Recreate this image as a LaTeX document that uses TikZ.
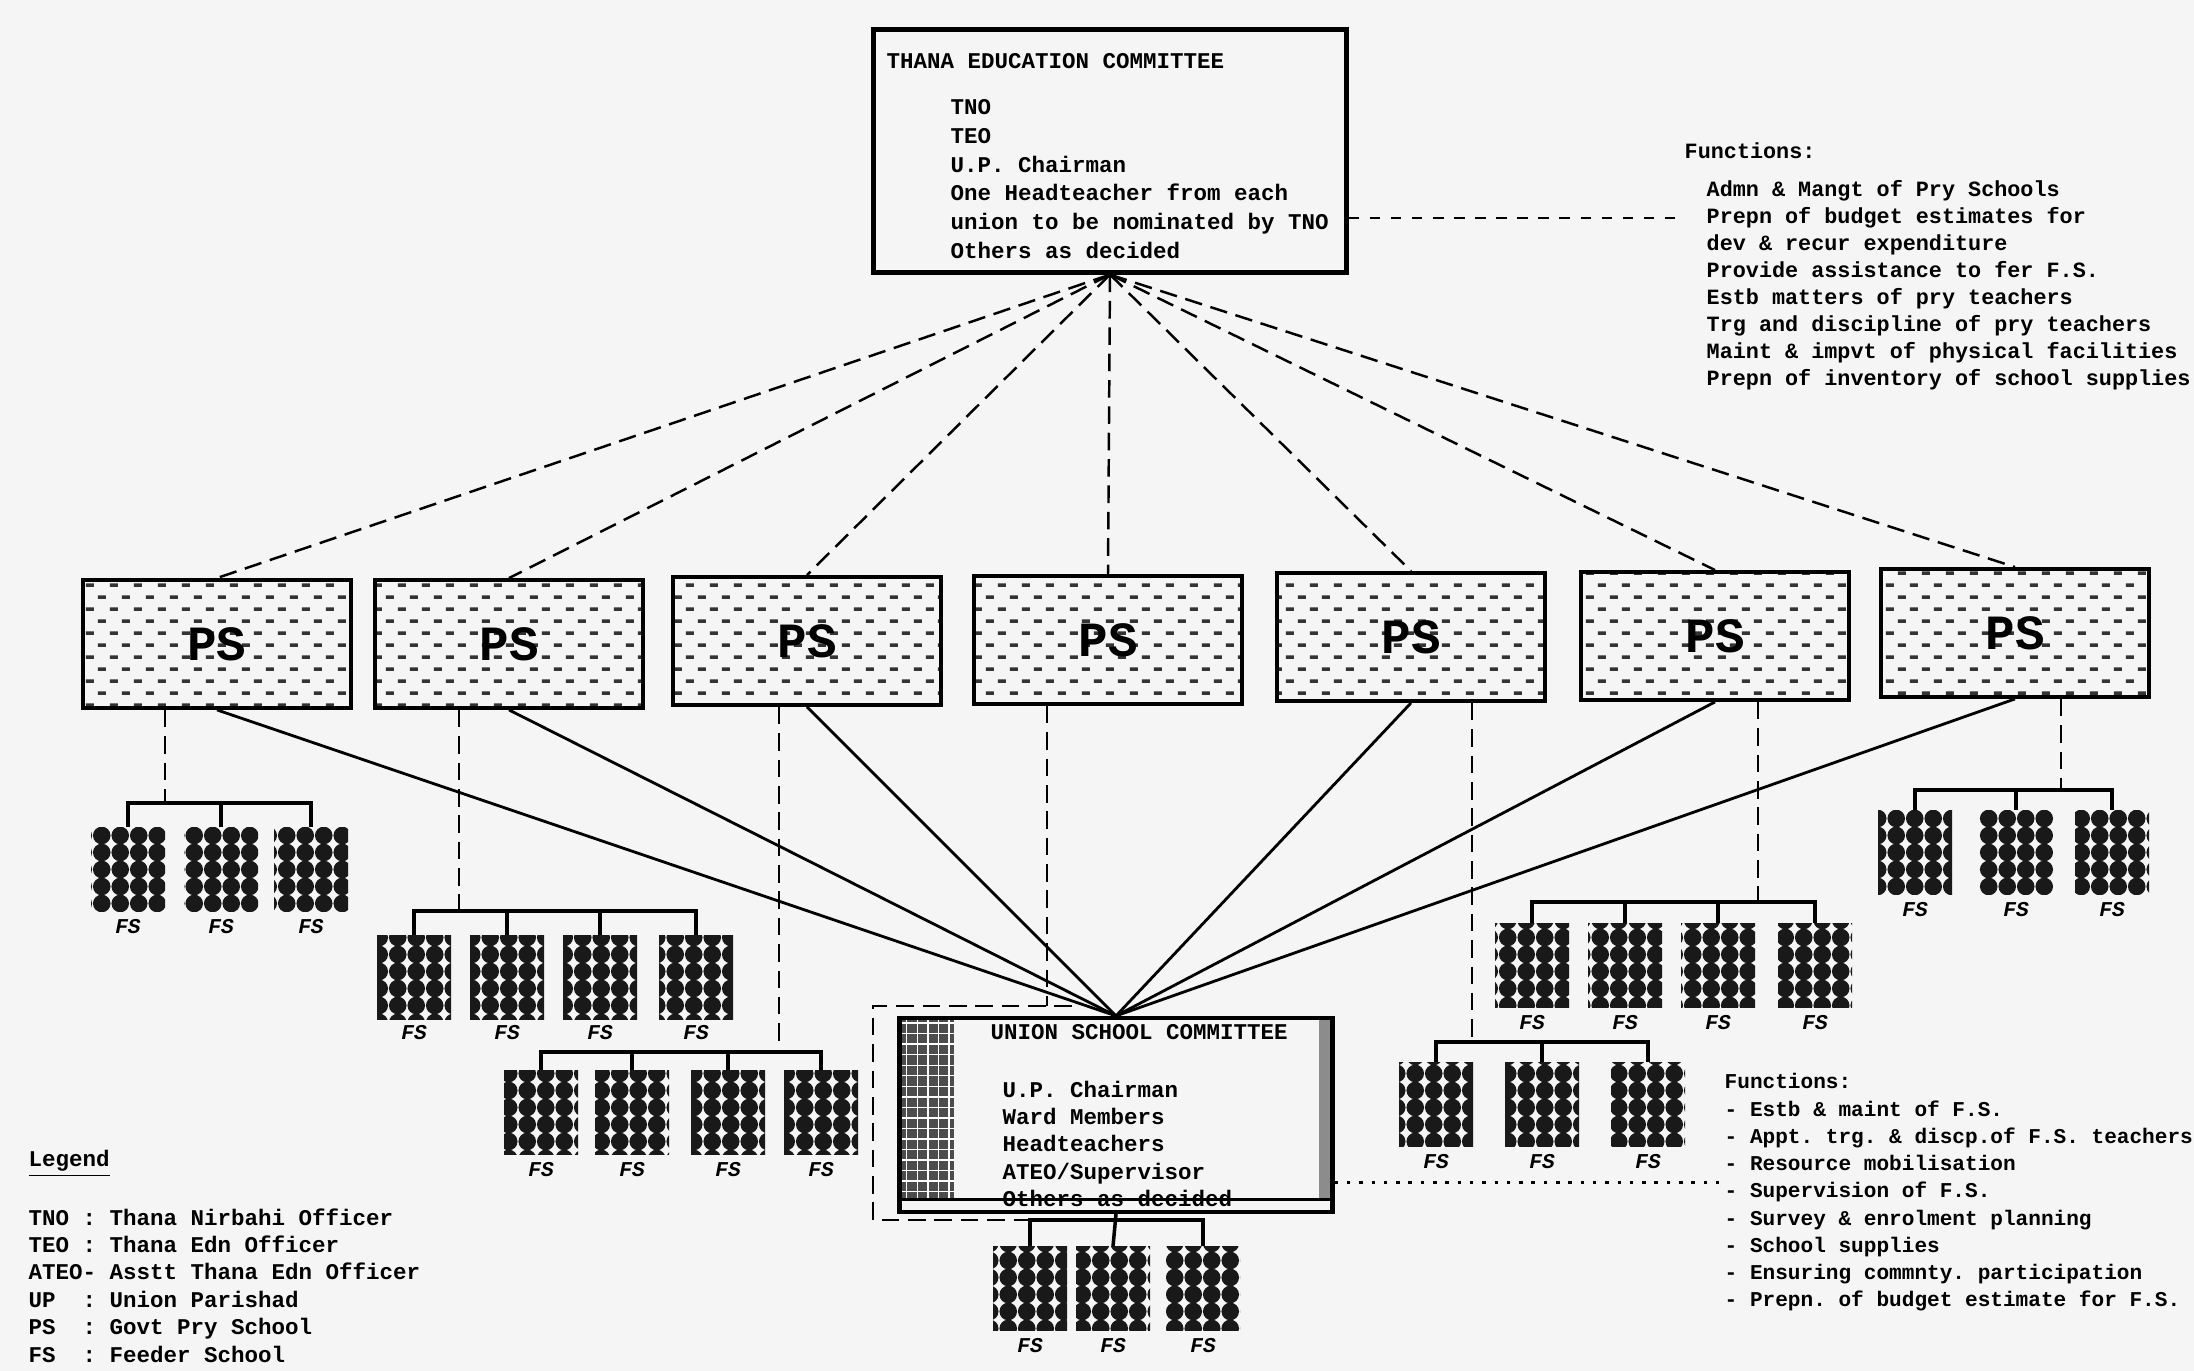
\documentclass[tikz,border=0pt]{standalone}
\usepackage{fontspec}
\setmonofont{Liberation Mono}
\usetikzlibrary{positioning,calc,patterns,backgrounds}

% short dashes inside the PS boxes
\pgfdeclarepatternformonly{psdash}{\pgfpoint{-0.1mm}{-0.1mm}}{\pgfpoint{2.5mm}{2.5mm}}{\pgfpoint{2.4mm}{2.4mm}}{%
  \pgfpathrectangle{\pgfpoint{0.2mm}{0.4mm}}{\pgfpoint{0.8mm}{0.35mm}}%
  \pgfpathrectangle{\pgfpoint{1.4mm}{1.6mm}}{\pgfpoint{0.8mm}{0.35mm}}%
  \pgfusepath{fill}}
% black blobs of the feeder schools
\pgfdeclarepatternformonly{blobs}{\pgfpoint{-0.1mm}{-0.1mm}}{\pgfpoint{1.95mm}{1.8mm}}{\pgfpoint{1.85mm}{1.7mm}}{%
  \pgfpathcircle{\pgfpoint{0.925mm}{0.85mm}}{0.88mm}%
  \pgfusepath{fill}}

\begin{document}
\begin{tikzpicture}[
    x=0.1mm, y=-0.1mm,
    tecbox/.style={rectangle, draw=black, line width=1.2pt, minimum width=47.3mm, minimum height=24.3mm},
    uscbox/.style={rectangle, draw=black, line width=1.2pt, minimum width=43.3mm, minimum height=19.4mm},
    psbox/.style={rectangle, draw=black, line width=1.1pt, minimum width=26.8mm, minimum height=12.8mm, pattern=psdash, pattern color=black!80, font=\ttfamily\bfseries\fontsize{14}{14}\selectfont},
    fsblock/.style={rectangle, inner sep=0pt, minimum width=7.4mm, minimum height=8.4mm, pattern=blobs, pattern color=black!90},
    fslabel/.style={inner sep=0pt, font=\ttfamily\bfseries\itshape\fontsize{6}{6}\selectfont},
    memtext/.style={inner sep=0pt, anchor=north west, align=left, font=\ttfamily\bfseries\fontsize{6.4}{7.8}\selectfont},
    dashlink/.style={dash pattern=on 5pt off 2.5pt, line width=0.7pt},
    tieline/.style={line width=0.8pt},
    railline/.style={line width=1pt},
    dotline/.style={dash pattern=on 1pt off 2.5pt, line width=0.8pt},
    fnline/.style={dash pattern=on 3pt off 3pt, line width=0.7pt}
]

\begin{scope}[on background layer]
    \fill[black!4] (0,0) rectangle (2194,1371);
\end{scope}
\useasboundingbox (0,0) rectangle (2194,1371);

% --- THANA LEVEL ---
\node[tecbox] (tec) at (1110,151) {};
\node[memtext, font=\ttfamily\bfseries\fontsize{6.4}{8.2}\selectfont] (tectxt) at (886,53) {THANA EDUCATION COMMITTEE\\[4.8pt]
    \hspace*{6.4mm}TNO\\
    \hspace*{6.4mm}TEO\\
    \hspace*{6.4mm}U.P. Chairman\\
    \hspace*{6.4mm}One Headteacher from each\\
    \hspace*{6.4mm}union to be nominated by TNO\\
    \hspace*{6.4mm}Others as decided};

\node[memtext, font=\ttfamily\bfseries\fontsize{6.2}{7.7}\selectfont] (topfn) at (1684,142) {Functions:\\[3pt]
    \hspace*{2.2mm}Admn \& Mangt of Pry Schools\\
    \hspace*{2.2mm}Prepn of budget estimates for\\
    \hspace*{2.2mm}dev \& recur expenditure\\
    \hspace*{2.2mm}Provide assistance to fer F.S.\\
    \hspace*{2.2mm}Estb matters of pry teachers\\
    \hspace*{2.2mm}Trg and discipline of pry teachers\\
    \hspace*{2.2mm}Maint \& impvt of physical facilities\\
    \hspace*{2.2mm}Prepn of inventory of school supplies};

% --- GOVT PRY SCHOOLS ---
\node[psbox] (ps1) at (217,644) {PS};
\node[psbox] (ps2) at (509,644) {PS};
\node[psbox] (ps3) at (807,641) {PS};
\node[psbox] (ps4) at (1108,640) {PS};
\node[psbox] (ps5) at (1411,637) {PS};
\node[psbox] (ps6) at (1715,636) {PS};
\node[psbox] (ps7) at (2015,633) {PS};

% --- UNION LEVEL ---
\node[uscbox] (usc) at (1116,1115) {};
\node[memtext] (usctxt) at (990,1024) {UNION SCHOOL COMMITTEE\\[8.5pt]
    \hspace*{1.2mm}U.P. Chairman\\
    \hspace*{1.2mm}Ward Members\\
    \hspace*{1.2mm}Headteachers\\
    \hspace*{1.2mm}ATEO/Supervisor\\
    \hspace*{1.2mm}Others as decided};

\begin{scope}[on background layer]
    \fill[black!70, postaction={pattern=grid, pattern color=white}] (usc.north west) rectangle ($(usc.south west)+(57,-15)$);
    \fill[black!45] (usc.north east) rectangle ($(usc.south east)+(-16,-15)$);
\end{scope}
\draw[line width=0.8pt] ($(usc.south west)+(0,-15)$) -- ($(usc.south east)+(0,-15)$);

\node[memtext, font=\ttfamily\bfseries\fontsize{6}{7.75}\selectfont] (botfn) at (1724,1073) {Functions:\\
    - Estb \& maint of F.S.\\
    - Appt. trg. \& discp.of F.S. teachers\\
    - Resource mobilisation\\
    - Supervision of F.S.\\
    - Survey \& enrolment planning\\
    - School supplies\\
    - Ensuring commnty. participation\\
    - Prepn. of budget estimate for F.S.};

% Legend
\node[memtext] (legend) at (28,1149) {\underline{Legend}\\[7.7pt]
    TNO : Thana Nirbahi Officer\\
    TEO : Thana Edn Officer\\
    ATEO- Asstt Thana Edn Officer\\
    UP~~: Union Parishad\\
    PS~~: Govt Pry School\\
    FS~~: Feeder School};

% --- FEEDER SCHOOLS ---
\node[fsblock] (a1) at (128,870) {};  \node[fslabel, below=0.6mm of a1] (a1l) {FS};
\node[fsblock] (a2) at (221,870) {};  \node[fslabel, below=0.6mm of a2] (a2l) {FS};
\node[fsblock] (a3) at (311,870) {};  \node[fslabel, below=0.6mm of a3] (a3l) {FS};

\node[fsblock] (b1) at (414,978) {};  \node[fslabel, below=0.4mm of b1] (b1l) {FS};
\node[fsblock] (b2) at (507,978) {};  \node[fslabel, below=0.4mm of b2] (b2l) {FS};
\node[fsblock] (b3) at (600,978) {};  \node[fslabel, below=0.4mm of b3] (b3l) {FS};
\node[fsblock] (b4) at (696,978) {};  \node[fslabel, below=0.4mm of b4] (b4l) {FS};

\node[fsblock] (c1) at (541,1113) {}; \node[fslabel, below=0.6mm of c1] (c1l) {FS};
\node[fsblock] (c2) at (632,1113) {}; \node[fslabel, below=0.6mm of c2] (c2l) {FS};
\node[fsblock] (c3) at (728,1113) {}; \node[fslabel, below=0.6mm of c3] (c3l) {FS};
\node[fsblock] (c4) at (821,1113) {}; \node[fslabel, below=0.6mm of c4] (c4l) {FS};

\node[fsblock] (d1) at (1030,1289) {}; \node[fslabel, below=0.6mm of d1] (d1l) {FS};
\node[fsblock] (d2) at (1113,1289) {}; \node[fslabel, below=0.6mm of d2] (d2l) {FS};
\node[fsblock] (d3) at (1203,1289) {}; \node[fslabel, below=0.6mm of d3] (d3l) {FS};

\node[fsblock] (e1) at (1436,1105) {}; \node[fslabel, below=0.6mm of e1] (e1l) {FS};
\node[fsblock] (e2) at (1542,1105) {}; \node[fslabel, below=0.6mm of e2] (e2l) {FS};
\node[fsblock] (e3) at (1648,1105) {}; \node[fslabel, below=0.6mm of e3] (e3l) {FS};

\node[fsblock] (f1) at (1532,966) {};  \node[fslabel, below=0.6mm of f1] (f1l) {FS};
\node[fsblock] (f2) at (1625,966) {};  \node[fslabel, below=0.6mm of f2] (f2l) {FS};
\node[fsblock] (f3) at (1718,966) {};  \node[fslabel, below=0.6mm of f3] (f3l) {FS};
\node[fsblock] (f4) at (1815,966) {};  \node[fslabel, below=0.6mm of f4] (f4l) {FS};

\node[fsblock] (g1) at (1915,853) {};  \node[fslabel, below=0.6mm of g1] (g1l) {FS};
\node[fsblock] (g2) at (2016,853) {};  \node[fslabel, below=0.6mm of g2] (g2l) {FS};
\node[fsblock] (g3) at (2112,853) {};  \node[fslabel, below=0.6mm of g3] (g3l) {FS};

% Bracket points
\coordinate (abr) at (165,803);
\coordinate (bbr) at (459,911);
\coordinate (cbr) at (779,1052);
\coordinate (dbr) at (1116,1220);
\coordinate (ebr) at (1472,1042);
\coordinate (fbr) at (1758,902);
\coordinate (gbr) at (2061,790);

% Frame round the union committee
\coordinate (frNE) at (1072,1006);
\coordinate (frNW) at (873,1006);
\coordinate (frSW) at (873,1220);
\coordinate (frSE) at (1030,1220);
\coordinate (frtop) at (1047,1006);
\draw[dashlink] (frNE) -- (frNW) -- (frSW) -- (frSE);

% Thana committee to the schools
\draw[dashlink] (tec.south) -- (ps1.north);
\draw[dashlink] (tec.south) -- (ps2.north);
\draw[dashlink] (tec.south) -- (ps3.north);
\draw[dashlink] (tec.south) -- (ps4.north);
\draw[dashlink] (tec.south) -- (ps5.north);
\draw[dashlink] (tec.south) -- (ps6.north);
\draw[dashlink] (tec.south) -- (ps7.north);

% Schools to the union committee
\draw[tieline] (ps1.south) -- (usc.north);
\draw[tieline] (ps2.south) -- (usc.north);
\draw[tieline] (ps3.south) -- (usc.north);
\draw[tieline] (ps5.south) -- (usc.north);
\draw[tieline] (ps6.south) -- (usc.north);
\draw[tieline] (ps7.south) -- (usc.north);

% Schools to their feeder schools
\draw[dashlink] (ps1.south -| abr) -- (abr);
\draw[railline] (a1.north) |- (a3.north |- abr) -- (a3.north);
\draw[railline] (a2.north) -- (a2.north |- abr);

\draw[dashlink] (ps2.south -| bbr) -- (bbr);
\draw[railline] (b1.north) |- (b4.north |- bbr) -- (b4.north);
\draw[railline] (b2.north) -- (b2.north |- bbr);
\draw[railline] (b3.north) -- (b3.north |- bbr);

\draw[dashlink] (ps3.south -| cbr) -- (cbr);
\draw[railline] (c1.north) |- (c4.north |- cbr) -- (c4.north);
\draw[railline] (c2.north) -- (c2.north |- cbr);
\draw[railline] (c3.north) -- (c3.north |- cbr);

\draw[dashlink] (ps4.south -| frtop) -- (frtop);

\draw[railline] (d2.north) -- (usc.south);
\draw[railline] (d1.north) |- (d3.north |- dbr) -- (d3.north);

\draw[dashlink] (ps5.south -| ebr) -- (ebr);
\draw[railline] (e1.north) |- (e3.north |- ebr) -- (e3.north);
\draw[railline] (e2.north) -- (e2.north |- ebr);

\draw[dashlink] (ps6.south -| fbr) -- (fbr);
\draw[railline] (f1.north) |- (f4.north |- fbr) -- (f4.north);
\draw[railline] (f2.north) -- (f2.north |- fbr);
\draw[railline] (f3.north) -- (f3.north |- fbr);

\draw[dashlink] (ps7.south -| gbr) -- (gbr);
\draw[railline] (g1.north) |- (g3.north |- gbr) -- (g3.north);
\draw[railline] (g2.north) -- (g2.north |- gbr);

% Links to the functions
\coordinate (tecfn) at ($(tec.north east)!0.77!(tec.south east)$);
\draw[fnline] (tecfn) -- (tecfn -| topfn.west);
\coordinate (uscfn) at ($(usc.north east)!0.84!(usc.south east)$);
\draw[dotline] (uscfn) -- (uscfn -| botfn.west);

\end{tikzpicture}
\end{document}
